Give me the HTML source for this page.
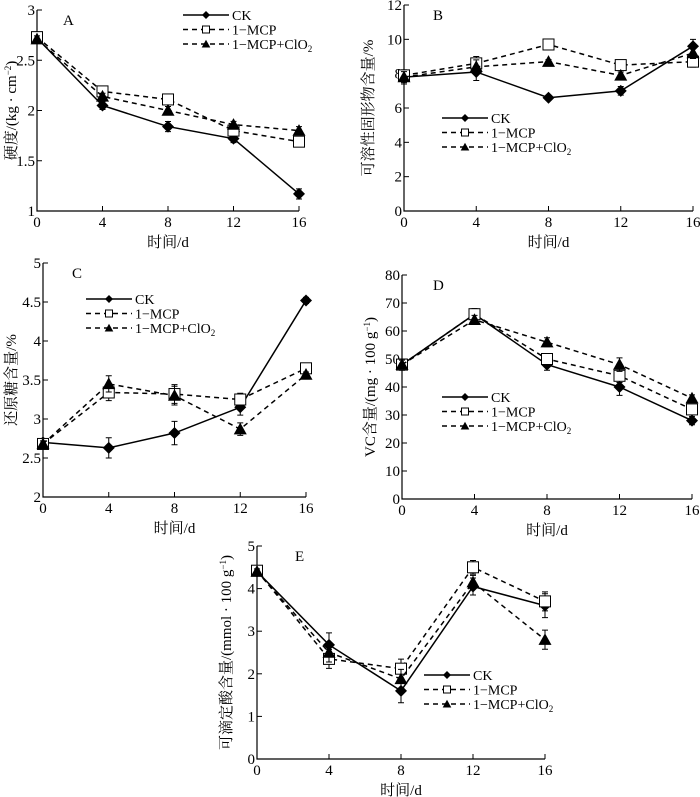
<!DOCTYPE html>
<html><head><meta charset="utf-8">
<style>
body{margin:0;background:#fff;}
svg{display:block;font-family:"Liberation Serif","Noto Serif CJK SC",serif;}
</style></head>
<body>
<svg id="chart" width="700" height="797" viewBox="0 0 700 797" xmlns="http://www.w3.org/2000/svg"></svg>
<script>
const days = [0,4,8,12,16];
// Panel A firmness
const aCK = [2.72,2.05,1.84,1.72,1.17];
const aMCP = [2.73,2.19,2.11,1.80,1.69];
const aClO2 = [2.71,2.14,2.00,1.86,1.80];
const aTicks = [1,1.5,2,2.5,3];
// Panel B soluble solids
const bCK = [7.8,8.1,6.6,7.0,9.6];
const bMCP = [7.9,8.6,9.7,8.5,8.7];
const bClO2 = [7.8,8.4,8.7,7.9,9.2];
const bTicks = [0,2,4,6,8,10,12];
// Panel C reducing sugar
const cCK = [2.70,2.63,2.82,3.15,4.52];
const cMCP = [2.68,3.34,3.32,3.25,3.65];
const cClO2 = [2.68,3.45,3.30,2.87,3.57];
const cTicks = [2,2.5,3,3.5,4,4.5,5];
// Panel D VC
const dCK = [48,66,48,40,28];
const dMCP = [48,66,50,44,32];
const dClO2 = [48,64,56,48,36];
const dTicks = [0,10,20,30,40,50,60,70,80];
// Panel E titratable acid
const eCK = [4.40,2.68,1.60,4.05,3.60];
const eMCP = [4.42,2.35,2.12,4.50,3.70];
const eClO2 = [4.40,2.50,1.88,4.15,2.80];
const eTicks = [0,1,2,3,4,5];
const errA = [0.04,0.04,0.05,0.04,0.05];
const errB = [0.4,0.5,0.15,0.25,0.4];
const errC = [0.05,0.13,0.15,0.1,0.04];
const errD = [2,2,2,3,1.5];
const errE = [0.08,0.28,0.28,0.2,0.28];

const NS="http://www.w3.org/2000/svg";
const svg=document.getElementById('chart');
function mk(tag,attrs,parent){const e=document.createElementNS(NS,tag);for(const k in attrs)e.setAttribute(k,attrs[k]);(parent||svg).appendChild(e);return e;}

function panel(p){
  const g=mk('g',{});
  
  
  const xs=v=>p.x0+(v-0)/16*(p.x1-p.x0);
  const ys=v=>p.yb+(v-p.ymin)/(p.ymax-p.ymin)*(p.yt-p.yb);
  const ax=mk('path',{d:`M${p.x0},${p.yt} V${p.yb} H${p.x1}`,stroke:'#000','stroke-width':1.2,fill:'none'},g);
  
  
  p.ticks.forEach(t=>{
    const y=ys(t);
    mk('line',{x1:p.x0,x2:p.x0+5,y1:y,y2:y,stroke:'#000'},g);
    const tx=mk('text',{x:p.x0-2,y:y+5,'text-anchor':'end','font-size':15},g);
    tx.textContent=t;
    
    
  });
  days.forEach(d=>{
    const x=xs(d);
    mk('line',{x1:x,x2:x,y1:p.yb,y2:p.yb-5,stroke:'#000'},g);
    const tx=mk('text',{x:x,y:p.yb+16,'text-anchor':'middle','font-size':15},g);
    tx.textContent=d;
    
    
  });
  const xt=mk('text',{x:(p.x0+p.x1)/2,y:p.yb+36,'text-anchor':'middle','font-size':15},g);
  xt.textContent='时间/d';
  
  
  const yt=mk('text',{x:0,y:0,'text-anchor':'middle','font-size':15,transform:`translate(${p.ytx},${(p.yt+p.yb)/2}) rotate(-90)`},g);
  yt.innerHTML=p.ytitle;
  
  
  const lt=mk('text',{x:p.x0+p.lx,y:p.yt+15,'font-size':15},g);
  lt.textContent=p.letter;
  
  
  const series=[
    {v:p.ck,dash:null,m:'d',name:'CK'},
    {v:p.mcp,dash:'5,4',m:'s',name:'1-MCP'},
    {v:p.clo,dash:'5,4',m:'t',name:'1-MCP+ClO2'}];
  series.forEach((s,si)=>{
    const pts=s.v.map((v,i)=>[xs(days[i]),ys(v)]);
    const ln=mk('polyline',{points:pts.map(q=>q.join(',')).join(' '),fill:'none',stroke:'#000','stroke-width':1.5},g);
    if(s.dash)ln.setAttribute('stroke-dasharray',s.dash);
    
    
    s.v.forEach((v,i)=>{
      const x=xs(days[i]);
      const e=p.err[i]*(si==0?1:0.8);
      const eb=mk('path',{d:`M${x},${ys(v+e)}V${ys(v-e)}M${x-3},${ys(v+e)}h6M${x-3},${ys(v-e)}h6`,stroke:'#000','stroke-width':1},g);
      
      
      marker(g,s.m,x,ys(v),1);
    });
  });
  series.forEach((s,i)=>{
    const y=p.ly+i*14.5;
    const l=mk('line',{x1:p.lgx,x2:p.lgx+46,y1:y,y2:y,stroke:'#000','stroke-width':1.5},g);
    if(s.dash)l.setAttribute('stroke-dasharray','5,4');
    
    
    marker(g,s.m,p.lgx+23,y,0.6);
    const t=mk('text',{x:p.lgx+49,y:y+5,'font-size':14},g);
    t.innerHTML=s.name=='1-MCP+ClO2'?'1−MCP+ClO<tspan font-size="9" dy="3">2</tspan>':s.name.replace('-','−');
    
    
  });
}
function marker(g,m,x,y,s){
  let e;
  if(m=='d'){const r=5*s+1;e=mk('path',{d:`M${x},${y-r}L${x+r},${y}L${x},${y+r}L${x-r},${y}Z`,fill:'#000'},g);}
  else if(m=='s'){const r=5*s+0.5;e=mk('rect',{x:x-r,y:y-r,width:2*r,height:2*r,fill:'#fff',stroke:'#000','stroke-width':1},g);}
  else {const r=5.5*s+1;e=mk('path',{d:`M${x},${y-r}L${x+r},${y+r*0.8}L${x-r},${y+r*0.8}Z`,fill:'#000'},g);}
  
  
}
panel({name:'panel-a-firmness',letter:'A',x0:37,x1:299,yt:10,yb:211,ymin:1,ymax:3,ticks:aTicks,ck:aCK,mcp:aMCP,clo:aClO2,err:errA,
  ytitle:'硬度/(kg · cm<tspan font-size="9" dy="-5">−2</tspan><tspan dy="5">)</tspan>',ytx:16,lx:26,lgx:183,ly:15});
panel({name:'panel-b-soluble-solids',letter:'B',x0:404,x1:693,yt:5,yb:211,ymin:0,ymax:12,ticks:bTicks,ck:bCK,mcp:bMCP,clo:bClO2,err:errB,
  ytitle:'可溶性固形物含量/%',ytx:373,lx:29,lgx:442,ly:118});
panel({name:'panel-c-reducing-sugar',letter:'C',x0:43,x1:306,yt:263,yb:497,ymin:2,ymax:5,ticks:cTicks,ck:cCK,mcp:cMCP,clo:cClO2,err:errC,
  ytitle:'还原糖含量/%',ytx:16,lx:29,lgx:86,ly:299});
panel({name:'panel-d-vc',letter:'D',x0:402,x1:692,yt:275,yb:499,ymin:0,ymax:80,ticks:dTicks,ck:dCK,mcp:dMCP,clo:dClO2,err:errD,
  ytitle:'VC含量/(mg · 100 g<tspan font-size="9" dy="-5">−1</tspan><tspan dy="5">)</tspan>',ytx:375,lx:31,lgx:442,ly:397});
panel({name:'panel-e-titratable-acid',letter:'E',x0:257,x1:545,yt:546,yb:759,ymin:0,ymax:5,ticks:eTicks,ck:eCK,mcp:eMCP,clo:eClO2,err:errE,
  ytitle:'可滴定酸含量/(mmol · 100 g<tspan font-size="9" dy="-5">−1</tspan><tspan dy="5">)</tspan>',ytx:231,lx:38,lgx:424,ly:675});
</script>
</body></html>
